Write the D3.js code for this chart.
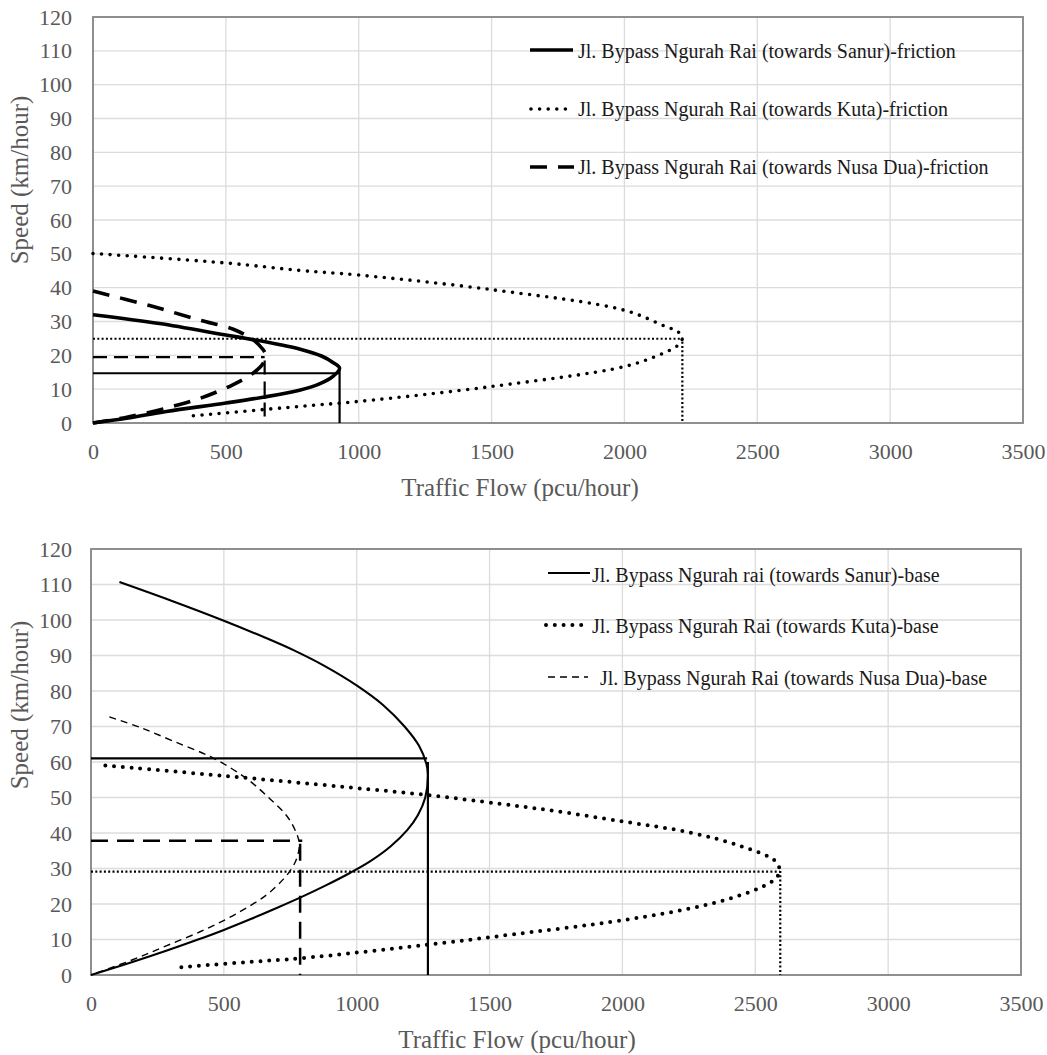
<!DOCTYPE html>
<html>
<head>
<meta charset="utf-8">
<script src="https://cdn.jsdelivr.net/npm/d3@7"></script>
<style>
  body { margin: 0; background: #fff; }
  svg { display: block; }
  text { font-family: "Liberation Serif", "Times New Roman", serif; }
</style>
</head>
<body>
<svg id="chart" width="1047" height="1055"></svg>
<script>
// axis ticks
const flowTicks = [0, 500, 1000, 1500, 2000, 2500, 3000, 3500];
const speedTicks = [0, 10, 20, 30, 40, 50, 60, 70, 80, 90, 100, 110, 120];

// ---- friction curves, [flow pcu/hour, speed km/hour]
const sanurFriction = [
    [0, 32.0], [250, 29.4], [500, 26.0], [577, 25.0], [700, 23.2], [780, 21.8],
    [860, 19.8], [903, 17.9], [928, 16.2], [903, 13.8], [850, 11.5], [777, 9.7],
    [639, 7.6], [500, 5.9], [276, 3.4], [127, 1.4], [0, 0]
];
const kutaFriction = [
    [0, 50.1], [500, 47.3], [777, 45.1], [1003, 43.7], [1501, 39.4], [2001, 33.3],
    [2158, 28.4], [2200, 27.1], [2218, 25.1], [2200, 22.9], [2133, 20.2],
    [2001, 16.7], [1501, 10.8], [1003, 6.4], [777, 4.9], [357, 2.0]
];
const nusaFriction = [
    [0, 39.0], [213, 34.7], [403, 30.4], [528, 27.7], [602, 24.6], [639, 21.8],
    [650, 20.0], [640, 17.6], [600, 14.6], [526, 11.3], [403, 7.3], [276, 4.4],
    [127, 1.7], [0, 0]
];
// capacity markers (friction)
const sanurFrictionCap = [[0, 14.7], [928, 14.7]];
const sanurFrictionDrop = [[928, 16.2], [928, 0]];
const kutaFrictionCap = [[0, 24.9], [2218, 24.9]];
const kutaFrictionDrop = [[2218, 25.3], [2218, 0]];
const nusaFrictionCap = [[0, 19.5], [646, 19.5]];
const nusaFrictionDrop = [[646, 18.5], [646, 0]];

// ---- base curves
const sanurBase = [
    [107, 110.7], [300, 105.5], [500, 99.8], [650, 95.2], [762, 91.5], [880, 87.0],
    [1001, 81.5], [1100, 76.0], [1180, 70.0], [1235, 64.5], [1262, 59.5], [1268, 56.5],
    [1258, 50.0], [1230, 45.0], [1190, 40.8], [1127, 36.2], [1050, 32.0], [976, 28.8],
    [880, 25.1], [787, 21.8], [690, 18.6], [599, 15.7], [500, 12.7], [400, 9.9],
    [283, 6.8], [150, 3.5], [0, 0]
];
const kutaBase = [
    [54, 59.0], [500, 56.1], [963, 52.9], [1265, 50.7], [1541, 48.2], [1717, 46.5],
    [2006, 43.2], [2257, 40.1], [2445, 36.3], [2571, 32.4], [2590, 30.3],
    [2583, 27.7], [2533, 25.1], [2408, 21.6], [2257, 18.8], [2006, 15.5],
    [1541, 11.0], [1265, 8.5], [787, 4.7], [599, 3.7], [340, 2.2]
];
const nusaBase = [
    [69, 72.7], [183, 69.8], [309, 65.9], [460, 61.1], [586, 55.3], [674, 49.6],
    [737, 44.8], [770, 40.5], [784, 37.0], [777, 33.5], [758, 30.3], [724, 27.0],
    [661, 22.6], [560, 17.8], [435, 13.0], [283, 8.2], [157, 4.3], [0, 0]
];
// capacity markers (base)
const sanurBaseCap = [[0, 61.0], [1265, 61.0]];
const sanurBaseDrop = [[1268, 60.0], [1268, 0]];
const kutaBaseCap = [[0, 29.1], [2592, 29.1]];
const kutaBaseDrop = [[2594, 29.3], [2594, 0]];
const nusaBaseCap = [[0, 37.8], [795, 37.8]];
const nusaBaseDrop = [[787, 37.0], [787, 0]];

const frictionLabels = [
    "Jl. Bypass Ngurah Rai (towards Sanur)-friction",
    "Jl. Bypass Ngurah Rai (towards Kuta)-friction",
    "Jl. Bypass Ngurah Rai (towards Nusa Dua)-friction"
];
const baseLabels = [
    "Jl. Bypass Ngurah rai (towards Sanur)-base",
    "Jl. Bypass Ngurah Rai (towards Kuta)-base",
    "Jl. Bypass Ngurah Rai (towards Nusa Dua)-base"
];

const xTitle = "Traffic Flow (pcu/hour)";
const yTitle = "Speed (km/hour)";

const serif = "'Liberation Serif', 'Times New Roman', serif";

// line styles
const styles = {
    thickSolid:  { w: 3.6, dash: null, cap: "butt" },
    thickDots:   { w: 3.6, dash: "0 8.6", cap: "round" },
    thickDash:   { w: 3.6, dash: "17 11", cap: "butt" },
    solid:       { w: 2.2, dash: null, cap: "butt" },
    smallDots:   { w: 2.2, dash: "2 2.3", cap: "butt" },
    midDash:     { w: 2.2, dash: "14 7", cap: "butt" },
    baseSolid:   { w: 2.1, dash: null, cap: "butt" },
    baseDots:    { w: 4, dash: "0 8.8", cap: "round" },
    thinDash:    { w: 1.4, dash: "7 5", cap: "butt" },
    refDash:     { w: 2.5, dash: "17 9", cap: "butt" }
};

const svg = d3.select("#chart");
svg.append("rect").attr("width", 1047).attr("height", 1055).attr("fill", "#fff");

function applyStyle(sel, s) {
    sel.attr("fill", "none")
        .attr("stroke", "#000")
        .attr("stroke-width", s.w)
        .attr("stroke-linecap", s.cap)
        .attr("stroke-dasharray", s.dash);
}

function drawPanel(cfg) {
    let g = svg.append("g");

    let x = d3.scaleLinear().domain([0, 3500]).range([cfg.left, cfg.right]);
    let y = d3.scaleLinear().domain([0, 120]).range([cfg.bottom, cfg.top]);

    // grid
    g.append("g").selectAll("line")
        .data(speedTicks)
        .enter().append("line")
        .attr("x1", cfg.left).attr("x2", cfg.right)
        .attr("y1", d => y(d)).attr("y2", d => y(d))
        .attr("stroke", "#dcdcdc").attr("stroke-width", 1.3);
    g.append("g").selectAll("line")
        .data(flowTicks)
        .enter().append("line")
        .attr("x1", d => x(d)).attr("x2", d => x(d))
        .attr("y1", cfg.top).attr("y2", cfg.bottom)
        .attr("stroke", "#dcdcdc").attr("stroke-width", 1.3);

    g.append("rect")
        .attr("x", cfg.left).attr("y", cfg.top)
        .attr("width", cfg.right - cfg.left).attr("height", cfg.bottom - cfg.top)
        .attr("fill", "none").attr("stroke", "#858585").attr("stroke-width", 1.8);

    // axes
    let yAxis = g.append("g")
        .attr("transform", "translate(" + cfg.left + ",0)")
        .call(d3.axisLeft(y).tickValues(speedTicks).tickFormat(d3.format("d"))
            .tickSize(0).tickPadding(cfg.left - 72));
    let xAxis = g.append("g")
        .attr("transform", "translate(0," + cfg.bottom + ")")
        .call(d3.axisBottom(x).tickValues(flowTicks).tickFormat(d3.format("d"))
            .tickSize(0).tickPadding(20));
    [yAxis, xAxis].forEach(a => {
        a.attr("font-family", null);
        a.select(".domain").remove();
        a.selectAll("text")
            .style("font-family", serif)
            .style("font-size", "22px")
            .attr("fill", "#595959");
    });

    g.append("text")
        .attr("x", cfg.xTitleX).attr("y", cfg.bottom + 73)
        .attr("text-anchor", "middle")
        .style("font-family", serif).style("font-size", "25px")
        .attr("fill", "#595959")
        .text(xTitle);
    g.append("text")
        .attr("transform", "translate(28," + cfg.yTitleY + ") rotate(-90)")
        .attr("text-anchor", "middle")
        .style("font-family", serif).style("font-size", "25px")
        .attr("fill", "#595959")
        .text(yTitle);

    let line = d3.line()
        .x(d => x(d[0]))
        .y(d => y(d[1]))
        .curve(d3.curveCatmullRom.alpha(0.5));
    let straight = d3.line().x(d => x(d[0])).y(d => y(d[1]));

    cfg.refs.forEach(r => {
        g.append("path").attr("d", straight(r.data)).call(applyStyle, styles[r.style]);
    });
    cfg.series.forEach(s => {
        g.append("path").attr("d", line(s.data)).call(applyStyle, styles[s.style]);
    });

    // legend
    let leg = g.append("g");
    cfg.legend.forEach(l => {
        leg.append("line")
            .attr("x1", l.x1).attr("x2", l.x2)
            .attr("y1", l.ly).attr("y2", l.ly)
            .call(applyStyle, styles[l.style]);
        leg.append("text")
            .attr("x", l.tx).attr("y", l.ty)
            .style("font-family", serif).style("font-size", "20px")
            .attr("fill", "#1a1a1a")
            .text(l.label);
    });
}

drawPanel({
    left: 93, right: 1023, top: 17, bottom: 423,
    xTitleX: 520, yTitleY: 180,
    refs: [
        { data: sanurFrictionCap, style: "solid" },
        { data: sanurFrictionDrop, style: "solid" },
        { data: kutaFrictionCap, style: "smallDots" },
        { data: kutaFrictionDrop, style: "smallDots" },
        { data: nusaFrictionCap, style: "midDash" },
        { data: nusaFrictionDrop, style: "midDash" }
    ],
    series: [
        { data: kutaFriction, style: "thickDots" },
        { data: nusaFriction, style: "thickDash" },
        { data: sanurFriction, style: "thickSolid" }
    ],
    legend: [
        { label: frictionLabels[0], style: "thickSolid", x1: 530, x2: 573, ly: 50, tx: 578, ty: 58 },
        { label: frictionLabels[1], style: "thickDots", x1: 531, x2: 568, ly: 109, tx: 578, ty: 116 },
        { label: frictionLabels[2], style: "thickDash", x1: 530, x2: 574, ly: 167, tx: 578, ty: 174 }
    ]
});

drawPanel({
    left: 91, right: 1021, top: 549, bottom: 975,
    xTitleX: 517, yTitleY: 705,
    refs: [
        { data: sanurBaseCap, style: "solid" },
        { data: sanurBaseDrop, style: "solid" },
        { data: kutaBaseCap, style: "smallDots" },
        { data: kutaBaseDrop, style: "smallDots" },
        { data: nusaBaseCap, style: "refDash" },
        { data: nusaBaseDrop, style: "refDash" }
    ],
    series: [
        { data: kutaBase, style: "baseDots" },
        { data: nusaBase, style: "thinDash" },
        { data: sanurBase, style: "baseSolid" }
    ],
    legend: [
        { label: baseLabels[0], style: "baseSolid", x1: 548, x2: 590, ly: 573, tx: 592, ty: 582 },
        { label: baseLabels[1], style: "baseDots", x1: 546, x2: 590, ly: 625, tx: 592, ty: 633 },
        { label: baseLabels[2], style: "thinDash", x1: 548, x2: 588, ly: 677, tx: 600, ty: 685 }
    ]
});
</script>
</body>
</html>
